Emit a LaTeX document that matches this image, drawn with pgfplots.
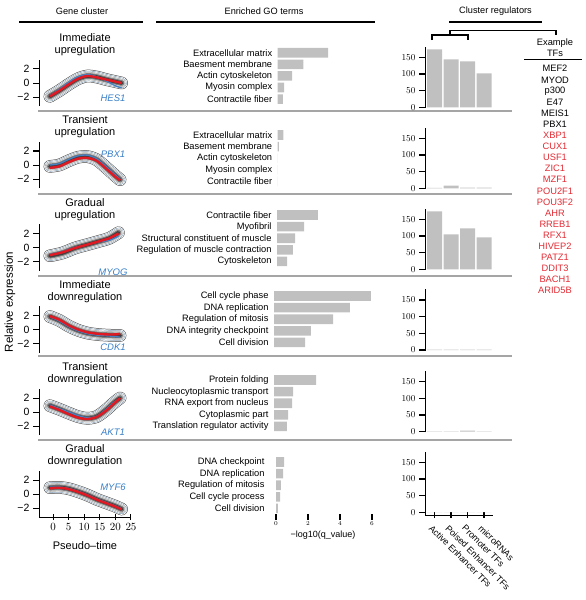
\documentclass[border=0pt]{standalone}
\usepackage{pgfplots}
\pgfplotsset{compat=1.18}
\usepackage{fontspec}
\setmainfont{Liberation Sans}
\definecolor{bargray}{RGB}{192,192,192}
\definecolor{tfred}{RGB}{226,42,50}
\definecolor{geneblue}{RGB}{55,126,200}
\definecolor{curveblue}{RGB}{70,130,195}
\definecolor{curvered}{RGB}{225,25,35}
\definecolor{sepgray}{RGB}{165,165,165}
\definecolor{ringblue}{RGB}{120,150,175}
\newcommand\fs[1]{\fontsize{#1}{12}\selectfont}
\newcommand\band[1]{%
 \addplot[smooth,no markers,line cap=round,line join=round,black!75,line width=12.6pt] coordinates {#1};
 \addplot[smooth,no markers,line cap=round,line join=round,white,line width=11.6pt] coordinates {#1};
 \addplot[smooth,no markers,line cap=round,line join=round,ringblue,line width=10.4pt] coordinates {#1};
 \addplot[smooth,no markers,line cap=round,line join=round,white,line width=9.4pt] coordinates {#1};
 \addplot[smooth,no markers,line cap=round,line join=round,gray!70,line width=8.2pt] coordinates {#1};
 \addplot[smooth,no markers,line cap=round,line join=round,black!15,line width=7.2pt] coordinates {#1};
 \addplot[smooth,no markers,line cap=round,line join=round,black!50,line width=5.8pt] coordinates {#1};
 \addplot[smooth,no markers,line cap=round,line join=round,black!75,line width=3.6pt] coordinates {#1};
}
\pgfplotsset{
 leftplot/.style={scale only axis, width=92pt, height=46.2pt, xmin=-4.5, xmax=25, ymin=-3.3, ymax=3.3,
   axis y line=left, axis line style={-,line width=0.9pt,black},
   ytick={-2,0,2}, yticklabels={−2,0,2}, tick align=outside, major tick length=6pt,
   tick style={line width=1pt,black}, yticklabel style={font=\fs{10.5}},
   clip=false, anchor=south west},
 goplot/.style={scale only axis, width=104pt, height=58pt, xmin=0, xmax=6.5, ymin=0.5, ymax=5.5,
   xbar, bar width=9.6pt, axis line style={draw=none}, ytick={1,...,5}, major tick length=0pt,
   ytick style={draw=none}, anchor=north west, clip=false,
   yticklabel style={font=\fs{9.3},xshift=-2pt}},
 regplot/.style={scale only axis, width=68pt, height=61.33pt, xmin=0.424, xmax=4.545, ymin=-2, ymax=182,
   ybar, bar width=15pt, axis y line=left, axis line style={-,line width=0.9pt,black},
   ytick={0,50,100,150}, tick align=outside, major tick length=6pt, tick style={black,line width=1.2pt},
   yticklabel style={font=\fs{9.3}}, anchor=south west, clip=false},
}
\begin{document}
\begin{tikzpicture}
\path[use as bounding box] (0pt,0pt) rectangle (586pt,-600pt);
% headers
\node[font=\fs{9.2}] at (82pt,-11.5pt) {Gene cluster};
\node[font=\fs{9.2}] at (264pt,-11.5pt) {Enriched GO terms};
\node[font=\fs{9.2}] at (495.5pt,-11.5pt) {Cluster regulators};
\draw[line width=1.5pt] (19pt,-22pt) -- (143pt,-22pt);
\draw[line width=1.5pt] (156pt,-22pt) -- (375pt,-22pt);
\draw[line width=1.5pt] (449pt,-22pt) -- (542pt,-22pt);
\draw[line width=1.3pt] (450pt,-35pt) -- (450pt,-30.5pt) -- (556pt,-30.5pt) -- (556pt,-35pt);
\draw[line width=1.3pt] (432pt,-40pt) -- (432pt,-35pt) -- (468pt,-35pt) -- (468pt,-40pt);
% separators
\foreach \s in {111,194,276,356,440} {\draw[sepgray,line width=1.2pt] (38pt,-\s pt) -- (512pt,-\s pt);}
% row titles
\node[align=center,font=\fontsize{11}{12}\selectfont] at (85pt,-45pt) {Immediate\\upregulation};
\node[align=center,font=\fontsize{11}{12}\selectfont] at (85pt,-127pt) {Transient\\upregulation};
\node[align=center,font=\fontsize{11}{12}\selectfont] at (85pt,-209.4pt) {Gradual\\upregulation};
\node[align=center,font=\fontsize{11}{12}\selectfont] at (85pt,-291.5pt) {Immediate\\downregulation};
\node[align=center,font=\fontsize{11}{12}\selectfont] at (85pt,-374pt) {Transient\\downregulation};
\node[align=center,font=\fontsize{11}{12}\selectfont] at (85pt,-456pt) {Gradual\\downregulation};
\node[rotate=90,font=\fs{11.5}] at (10pt,-302pt) {Relative expression};
\node[font=\fs{11}] at (85pt,-546pt) {Pseudo–time};
% ---- left plots
\begin{axis}[leftplot, at={(39pt,-106.1pt)}, axis x line=none, xtick=\empty]
 \band{(-1,-1.9) (2,-1.1) (5,-0.2) (8,0.6) (11,1.0) (14,0.85) (17,0.5) (20,0.2) (22,0.0)}
 \addplot[curveblue,line width=1.3pt,smooth] coordinates {(-1,-1.8) (2,-0.9) (5,0.1) (8,0.9) (11,1.2) (14,0.9) (17,0.3) (20,-0.4) (22,-0.7)};
 \addplot[curvered,line width=2.4pt,smooth] coordinates {(-1,-1.9) (2,-1.1) (5,-0.2) (8,0.6) (11,1.0) (14,0.8) (17,0.5) (20,0.2) (22,0.0)};
\end{axis}
\begin{axis}[leftplot, at={(39pt,-188.1pt)}, axis x line=none, xtick=\empty]
 \band{(-1,-0.2) (2,0.0) (5,0.6) (8,1.1) (11,1.2) (14,0.75) (17,-0.35) (19.5,-1.35) (21.5,-2.1)}
 \addplot[curveblue,line width=1.3pt,smooth] coordinates {(-1,0.0) (2,0.2) (5,0.8) (8,1.3) (11,1.4) (14,0.9) (17,-0.2) (19.5,-1.2) (21.5,-2.0)};
 \addplot[curvered,line width=2.4pt,smooth] coordinates {(-1,-0.4) (2,-0.2) (5,0.4) (8,0.9) (11,1.0) (14,0.6) (17,-0.5) (19.5,-1.5) (21.5,-2.2)};
\end{axis}
\begin{axis}[leftplot, at={(39pt,-270.5pt)}, axis x line=none, xtick=\empty]
 \band{(-1,-1.2) (3,-0.8) (7,-0.1) (11,0.4) (15,0.9) (18,1.3) (21,2.1)}
 \addplot[curveblue,line width=1.3pt,smooth] coordinates {(-1,-1.0) (3,-0.6) (7,0.0) (11,0.4) (15,0.8) (18,1.0) (21,1.6)};
 \addplot[curvered,line width=2.4pt,smooth] coordinates {(-1,-1.1) (3,-0.7) (7,-0.1) (11,0.4) (15,0.9) (18,1.3) (21,2.0)};
\end{axis}
\begin{axis}[leftplot, at={(39pt,-352.6pt)}, axis x line=none, xtick=\empty]
 \band{(-1,1.85) (2,1.3) (5,0.5) (8,-0.1) (11,-0.5) (14,-0.7) (17,-0.8) (20,-0.85) (21.5,-0.85)}
 \addplot[curveblue,line width=1.3pt,smooth] coordinates {(-1,1.8) (2,1.2) (5,0.4) (8,-0.2) (11,-0.6) (14,-0.8) (17,-0.9) (20,-1.0) (21.5,-1.1)};
 \addplot[curvered,line width=2.4pt,smooth] coordinates {(-1,1.9) (2,1.4) (5,0.6) (8,0.0) (11,-0.4) (14,-0.6) (17,-0.7) (20,-0.7) (21.5,-0.6)};
\end{axis}
\begin{axis}[leftplot, at={(39pt,-435.1pt)}, axis x line=none, xtick=\empty]
 \band{(-1,0.9) (2,0.4) (5,-0.15) (8,-0.65) (11,-0.9) (14,-0.65) (17,0.3) (19.5,1.3) (21.5,2.0)}
 \addplot[curveblue,line width=1.3pt,smooth] coordinates {(-1,1.0) (2,0.5) (5,0.0) (8,-0.5) (11,-0.8) (14,-0.6) (17,0.4) (19.5,1.4) (21.5,1.9)};
 \addplot[curvered,line width=2.4pt,smooth] coordinates {(-1,0.8) (2,0.3) (5,-0.3) (8,-0.8) (11,-1.0) (14,-0.7) (17,0.2) (19.5,1.2) (21.5,2.0)};
\end{axis}
\begin{axis}[leftplot, at={(39pt,-517.1pt)}, axis x line=bottom, x axis line style={-}, y axis line style={-},
   xtick={0,5,10,15,20,25}, xticklabel style={font=\fs{10.5}}]
 \band{(-1,0.9) (2,0.95) (5,0.75) (8,0.35) (11,-0.15) (14,-0.75) (17,-1.25) (20,-1.75) (22,-2.15)}
 \addplot[curveblue,line width=1.3pt,smooth] coordinates {(-1,1.0) (2,1.0) (5,0.8) (8,0.4) (11,-0.1) (14,-0.7) (17,-1.2) (20,-1.7) (22,-2.1)};
 \addplot[curvered,line width=2.4pt,smooth] coordinates {(-1,0.8) (2,0.9) (5,0.7) (8,0.3) (11,-0.2) (14,-0.8) (17,-1.3) (20,-1.8) (22,-2.2)};
\end{axis}
% gene names
\node[font=\fs{9.5}\itshape,text=geneblue] at (113pt,-98pt) {HES1};
\node[font=\fs{9.5}\itshape,text=geneblue] at (113pt,-154pt) {PBX1};
\node[font=\fs{9.5}\itshape,text=geneblue] at (113pt,-272pt) {MYOG};
\node[font=\fs{9.5}\itshape,text=geneblue] at (113pt,-347pt) {CDK1};
\node[font=\fs{9.5}\itshape,text=geneblue] at (113pt,-432pt) {AKT1};
\node[font=\fs{9.5}\itshape,text=geneblue] at (113pt,-487pt) {MYF6};
% ---- GO plots
\begin{axis}[goplot, at={(277.7pt,-46.9pt)}, xtick=\empty,
  yticklabels={Contractile fiber,Myosin complex,Actin cytoskeleton,Baesment membrane,Extracellular matrix}]
 \addplot[fill=bargray,draw=none] coordinates {(3.15,5) (1.6,4) (0.9,3) (0.4,2) (0.33,1)};
\end{axis}
\begin{axis}[goplot, at={(277.7pt,-129.2pt)}, xtick=\empty,
  yticklabels={Contractile fiber,Myosin complex,Actin cytoskeleton,Basement membrane,Extracellular matrix}]
 \addplot[fill=bargray,draw=none] coordinates {(0.35,5) (0.08,4) (0,3) (0,2) (0,1)};
\end{axis}
\begin{axis}[goplot, at={(277pt,-209.2pt)}, xtick=\empty,
  yticklabels={Cytoskeleton,Regulation of muscle contraction,Structural constituent of muscle,Myofibril,Contractile fiber}]
 \addplot[fill=bargray,draw=none] coordinates {(2.56,5) (1.69,4) (1.13,3) (1.0,2) (0.63,1)};
\end{axis}
\begin{axis}[goplot, at={(274pt,-290.2pt)}, xtick=\empty,
  yticklabels={Cell division,DNA integrity checkpoint,Regulation of mitosis,DNA replication,Cell cycle phase}]
 \addplot[fill=bargray,draw=none] coordinates {(6.06,5) (4.75,4) (3.69,3) (2.31,2) (1.94,1)};
\end{axis}
\begin{axis}[goplot, at={(274pt,-374.2pt)}, xtick=\empty,
  yticklabels={Translation regulator activity,Cytoplasmic part,RNA export from nucleus,Nucleocytoplasmic transport,Protein folding}]
 \addplot[fill=bargray,draw=none] coordinates {(2.63,5) (1.19,4) (1.13,3) (0.88,2) (0.81,1)};
\end{axis}
\begin{axis}[goplot, at={(276pt,-456.2pt)},
  yticklabels={Cell division,Cell cycle process,Regulation of mitosis,DNA replication,DNA checkpoint},
  xtick={0,2,4,6}, xtick pos=left, tick align=outside, major tick length=6pt,
  xtick style={black,line width=1.8pt}, xticklabel style={font=\fs{6},yshift=2pt}]
 \addplot[fill=bargray,draw=none] coordinates {(0.5,5) (0.44,4) (0.31,3) (0.25,2) (0.12,1)};
\end{axis}
\node[font=\fs{9}] at (323pt,-535pt) {−log10(q\_value)};
% ---- regulator plots
\begin{axis}[regplot, at={(425pt,-107.97pt)}, axis x line=none, xtick=\empty]
 \addplot[fill=bargray,draw=none] coordinates {(1,174) (2,144) (3,138) (4,102)};
\end{axis}
\begin{axis}[regplot, at={(425pt,-188.97pt)}, axis x line=none, xtick=\empty]
 \addplot[fill=bargray,draw=none] coordinates {(1,1) (2,8) (3,2) (4,2)};
\end{axis}
\begin{axis}[regplot, at={(425pt,-269.97pt)}, axis x line=none, xtick=\empty]
 \addplot[fill=bargray,draw=none] coordinates {(1,174) (2,105) (3,123) (4,96)};
\end{axis}
\begin{axis}[regplot, at={(425pt,-350.67pt)}, axis x line=none, xtick=\empty]
 \addplot[fill=bargray,draw=none] coordinates {(1,1) (2,1) (3,1) (4,1)};
\end{axis}
\begin{axis}[regplot, at={(425pt,-432.37pt)}, axis x line=none, xtick=\empty]
 \addplot[fill=bargray,draw=none] coordinates {(1,1) (2,1) (3,3) (4,1)};
\end{axis}
\begin{axis}[regplot, at={(425pt,-515pt)}, ymin=-8, height=63.33pt, axis x line=bottom,
  x axis line style={-}, y axis line style={-},
  xtick={1,2,3,4}, xticklabels={Active Enhancer TFs,Poised Enhancer TFs,Promoter TFs,microRNAs},
  xticklabel style={rotate=-45,anchor=north west,font=\fs{9},yshift=-2pt}]
 \addplot[fill=bargray,draw=none] coordinates {(1,0) (2,0) (3,0) (4,0)};
\end{axis}
% ---- example TFs
\node[font=\fs{9.3}] at (555pt,-42.7pt) {Example};
\node[font=\fs{9.3}] at (555pt,-53.3pt) {TFs};
\draw[line width=1.3pt] (524pt,-59.5pt) -- (582pt,-59.5pt);
\foreach \t [count=\k from 0] in {MEF2,MYOD,p300,E47,MEIS1,PBX1} {
  \node[font=\fs{9.3}] at (555pt,{-68.7pt-11.1pt*\k}) {\t};}
\foreach \t [count=\k from 6] in {XBP1,CUX1,USF1,ZIC1,MZF1,POU2F1,POU3F2,AHR,RREB1,RFX1,HIVEP2,PATZ1,DDIT3,BACH1,ARID5B} {
  \node[font=\fs{9.3},text=tfred] at (555pt,{-68.7pt-11.1pt*\k}) {\t};}
\end{tikzpicture}
\end{document}
